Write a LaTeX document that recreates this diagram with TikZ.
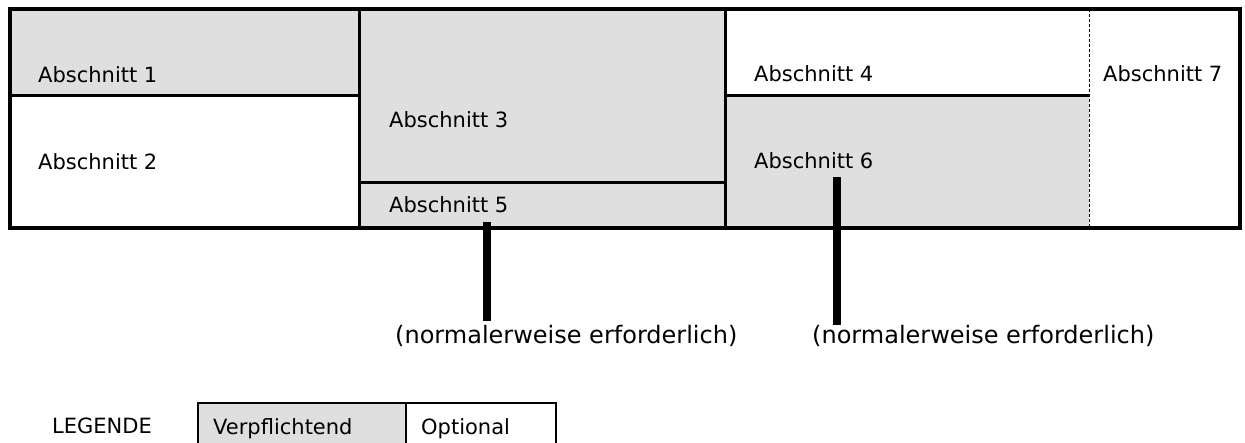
\documentclass[tikz,border=0pt]{standalone}
\usepackage{fontspec}
\setmainfont{DejaVu Sans}
\definecolor{fillgray}{RGB}{223,223,223}
\begin{document}
\begin{tikzpicture}[x=1pt,y=-1pt,
  region/.style={rectangle, inner sep=0pt, outer sep=0pt, draw=none, anchor=north west},
  mand/.style={fill=fillgray},
  opt/.style={fill=white},
  lbl/.style={inner sep=0pt, anchor=base west, font=\fontsize{21}{25}\selectfont},
  note/.style={inner sep=0pt, anchor=base west, font=\fontsize{24}{28}\selectfont},
  stem/.style={line width=8pt},
  frame/.style={line width=4pt},
  sep/.style={line width=3pt},
  dsep/.style={line width=1pt, dash pattern=on 3pt off 2pt},
  legline/.style={line width=2.5pt}]
\useasboundingbox (0,0) rectangle (1245,443);
% regions
\node[region, mand, minimum width=349pt, minimum height=87pt]  (r1) at (10,9) {};
\node[region, opt,  minimum width=349pt, minimum height=132pt] (r2) at (10,96) {};
\node[region, mand, minimum width=366pt, minimum height=174pt] (r3) at (359,9) {};
\node[region, mand, minimum width=366pt, minimum height=45pt]  (r5) at (359,183) {};
\node[region, opt,  minimum width=364pt, minimum height=87pt]  (r4) at (725,9) {};
\node[region, mand, minimum width=364pt, minimum height=132pt] (r6) at (725,96) {};
\node[region, opt,  minimum width=151pt, minimum height=219pt] (r7) at (1089,9) {};
% separators
\draw[sep] (r1.north east) -- (r2.south east);
\draw[sep] (r3.north east) -- (r5.south east);
\draw[sep] (r1.south west) -- (r1.south east);
\draw[sep] (r3.south west) -- (r3.south east);
\draw[sep] (r4.south west) -- (r4.south east);
\draw[dsep] (r7.north west) -- (r7.south west);
\draw[frame] (r1.north west) rectangle (r7.south east);
% texts
\node[lbl] (t1) at (38,83) {Abschnitt 1};
\node[lbl] (t2) at (38,170) {Abschnitt 2};
\node[lbl] (t3) at (389,128) {Abschnitt 3};
\node[lbl] (t5) at (389,213) {Abschnitt 5};
\node[lbl] (t4) at (754,82) {Abschnitt 4};
\node[lbl] (t6) at (754,169) {Abschnitt 6};
\node[lbl] (t7) at (1103,82) {Abschnitt 7};
% notes and stems
\node[note] (n1) at (395,344) {(normalerweise erforderlich)};
\node[note] (n2) at (812,344) {(normalerweise erforderlich)};
\coordinate (s1a) at (487,222);
\coordinate (s1b) at (487,321);
\coordinate (s2a) at (837,177);
\coordinate (s2b) at (837,325);
\draw[stem] (s1a) -- (s1b);
\draw[stem] (s2a) -- (s2b);
% legend
\node[lbl] (leg) at (52,434) {LEGENDE};
\node[region, mand, minimum width=208pt, minimum height=45pt] (lv) at (198,403) {};
\node[region, opt,  minimum width=150pt, minimum height=45pt] (lo) at (406,403) {};
\draw[legline] (lv.south west) -- (lv.north west) -- (lo.north east) -- (lo.south east);
\draw[legline] (lo.north west) -- (lo.south west);
\node[lbl] (tv) at (213,435) {Verpflichtend};
\node[lbl] (to) at (421,435) {Optional};
\end{tikzpicture}
\end{document}
